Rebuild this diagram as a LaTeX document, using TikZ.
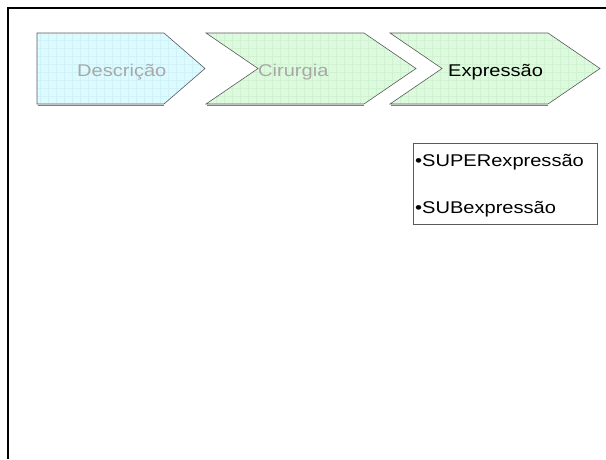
\documentclass[tikz,border=0pt]{standalone}
\usepackage{fontspec}
\setmainfont{Liberation Sans}
\definecolor{fasecyan}{RGB}{221, 251, 255}
\definecolor{gridcyan}{RGB}{206, 242, 248}
\definecolor{fasegreen}{RGB}{222, 250, 222}
\definecolor{gridgreen}{RGB}{207, 242, 208}
\definecolor{textgray}{RGB}{168, 168, 168}
\definecolor{edgegray}{RGB}{90, 90, 90}
\usetikzlibrary{positioning}
\newcommand{\largo}[1]{\scalebox{1.18}[1]{#1}}

\begin{document}
\begin{tikzpicture}[x=1pt, y=-1pt,
  fasetxt/.style={anchor=base west, inner sep=0pt, font=\fontsize{17}{20}\selectfont},
  fasebox/.style={draw=edgegray, line width=0.6pt}]
  \useasboundingbox (0,0) rectangle (606,459);

  % slide frame
  \draw[line width=2.8pt] (606,8) -- (8,8) -- (8,459);

  % Fase 1 (Descricao)
  \fill[fasecyan] (37,33) -- (164,33) -- (205,68.5) -- (164,104) -- (37,104) -- cycle;
  \begin{scope}
    \clip (37,33) -- (164,33) -- (205,68.5) -- (164,104) -- (37,104) -- cycle;
    \draw[gridcyan, line width=0.4pt] (37,33) grid[step=8pt] (206,104);
  \end{scope}
  \draw[fasebox] (37,33) -- (164,33) -- (205,68.5) -- (164,104) -- (37,104) -- cycle;
  \draw[gray, line width=1pt] (38,105) -- (164,105);
  \node[fasetxt, textgray] (descricao) at (77,76) {\largo{Descrição}};

  % Fase 2 (Cirurgia)
  \fill[fasegreen] (206,33) -- (364,33) -- (416,68.5) -- (364,104) -- (206,104) -- (258,68.5) -- cycle;
  \begin{scope}
    \clip (206,33) -- (364,33) -- (416,68.5) -- (364,104) -- (206,104) -- (258,68.5) -- cycle;
    \draw[gridgreen, line width=0.4pt] (206,33) grid[step=8pt] (417,104);
  \end{scope}
  \draw[fasebox] (206,33) -- (364,33) -- (416,68.5) -- (364,104) -- (206,104) -- (258,68.5) -- cycle;
  \draw[gray, line width=1pt] (207,105) -- (364,105);
  \node[fasetxt, textgray] (cirurgia) at (258,76) {\largo{Cirurgia}};

  % Fase 3 (Expressao)
  \fill[fasegreen] (390,33) -- (548,33) -- (600,68.5) -- (548,104) -- (390,104) -- (442,68.5) -- cycle;
  \begin{scope}
    \clip (390,33) -- (548,33) -- (600,68.5) -- (548,104) -- (390,104) -- (442,68.5) -- cycle;
    \draw[gridgreen, line width=0.4pt] (390,33) grid[step=8pt] (601,104);
  \end{scope}
  \draw[fasebox] (390,33) -- (548,33) -- (600,68.5) -- (548,104) -- (390,104) -- (442,68.5) -- cycle;
  \draw[gray, line width=1pt] (391,105) -- (548,105);
  \node[fasetxt, black] (expressao) at (448,76) {\largo{Expressão}};

  % lista
  \draw[edgegray, line width=0.6pt] (413,143) rectangle (597,224);
  \node[fasetxt] (superexp) at (415,166) {\largo{•SUPERexpressão}};
  \node[fasetxt] (subexp) at (415,213) {\largo{•SUBexpressão}};
\end{tikzpicture}
\end{document}
